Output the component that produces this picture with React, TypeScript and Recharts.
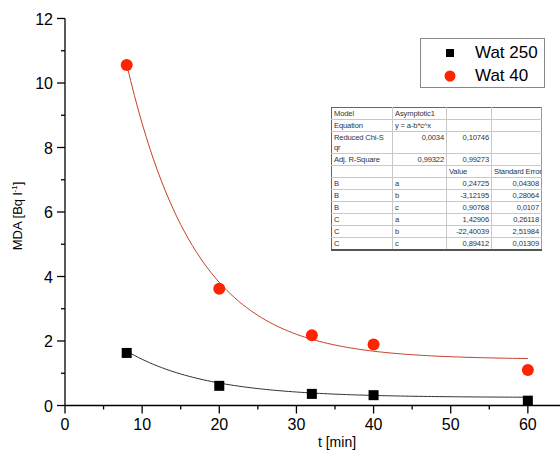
import React from "react";
import { ComposedChart, Line, Scatter, XAxis, YAxis } from "recharts";

// Measured detection limits (MDA) versus counting time
const timesWat250 = [8, 20, 32, 40, 60];
const mdaWat250 = [1.63, 0.61, 0.36, 0.32, 0.15];
const timesWat40 = [8, 20, 32, 40, 60];
const mdaWat40 = [10.56, 3.62, 2.18, 1.89, 1.1];

// Asymptotic1 fit parameters: y = a - b * c^x
const fitWat250 = { a: 0.24725, b: -3.12195, c: 0.90768 };
const fitWat40 = { a: 1.42906, b: -22.40039, c: 0.89412 };
const fitRange = [8, 60];

const xTicks = [0, 5, 10, 15, 20, 25, 30, 35, 40, 45, 50, 55, 60, 65];
const yTicks = [0, 1, 2, 3, 4, 5, 6, 7, 8, 9, 10, 11, 12];

// Fit-report table rows
const tableHead = [
  ["Model", "Asymptotic1", "", ""],
  ["Equation", "y = a-b*c^x", "", ""],
  ["Reduced Chi-Sqr", "0,0034", "0,10746", ""],
  ["Adj. R-Square", "0,99322", "0,99273", ""],
  ["", "", "Value", "Standard Error"],
];
const tableParams = [
  ["B", "a", "0,24725", "0,04308"],
  ["B", "b", "-3,12195", "0,28064"],
  ["B", "c", "0,90768", "0,0107"],
  ["C", "a", "1,42906", "0,26118"],
  ["C", "b", "-22,40039", "2,51984"],
  ["C", "c", "0,89412", "0,01309"],
];

const FONT = "'Liberation Sans', Arial, sans-serif";
const RED = "#ff2400";

const points = (xs: number[], ys: number[]) => xs.map((x, i) => ({ x, y: ys[i] }));

function fitCurve(p: { a: number; b: number; c: number }) {
  const out: { x: number; y: number }[] = [];
  for (let x = fitRange[0]; x <= fitRange[1] + 1e-9; x += 0.5) {
    out.push({ x, y: p.a - p.b * Math.pow(p.c, x) });
  }
  return out;
}

const dataWat250 = points(timesWat250, mdaWat250);
const dataWat40 = points(timesWat40, mdaWat40);
const curveWat250 = fitCurve(fitWat250);
const curveWat40 = fitCurve(fitWat40);

const YTick = (props: any) => {
  const { x, y, payload } = props;
  const v = payload.value as number;
  const major = v % 2 === 0;
  return (
    <g>
      <line x1={x} x2={x - (major ? 8 : 4)} y1={y} y2={y} stroke="#000" strokeWidth={1.3} />
      {major && (
        <text x={x - 12} y={y + 6} textAnchor="end" fontSize={16} fontFamily={FONT} fill="#000">
          {v}
        </text>
      )}
    </g>
  );
};

const XTick = (props: any) => {
  const { x, y, payload } = props;
  const v = payload.value as number;
  const major = v % 10 === 0;
  return (
    <g>
      <line x1={x} x2={x} y1={y} y2={y + (major ? 8 : 4)} stroke="#000" strokeWidth={1.3} />
      {major && (
        <text x={x} y={y + 24} textAnchor="middle" fontSize={16} fontFamily={FONT} fill="#000">
          {v}
        </text>
      )}
    </g>
  );
};

const Square = (props: any) => {
  const { cx, cy } = props;
  return <rect x={cx - 5} y={cy - 5} width={10} height={10} fill="#000" />;
};

const Dot = (props: any) => {
  const { cx, cy } = props;
  return <circle cx={cx} cy={cy} r={6} fill={RED} />;
};

const YTitle = (props: any) => {
  const vb = props.viewBox || { x: 0, y: 0, width: 65, height: 387 };
  const cx = vb.x + 22;
  const cy = vb.y + vb.height / 2 + 4;
  return (
    <text
      x={cx}
      y={cy}
      transform={`rotate(-90 ${cx} ${cy})`}
      textAnchor="middle"
      fontSize={13}
      fontFamily={FONT}
      fill="#000"
    >
      MDA [Bq l
      <tspan dy={-5} fontSize={8}>-1</tspan>
      <tspan dy={5}>]</tspan>
    </text>
  );
};

const XTitle = (props: any) => {
  const vb = props.viewBox || { x: 65, y: 405, width: 540, height: 46 };
  return (
    <text x={vb.x + vb.width / 2 + 2} y={vb.y + 41} textAnchor="middle" fontSize={14} fontFamily={FONT} fill="#000">
      t [min]
    </text>
  );
};

const legendItems = [
  { name: "Wat 250", kind: "square" },
  { name: "Wat 40", kind: "circle" },
];

function FitTable() {
  const rowH = (i: number) => (i === 2 ? 22 : 12);
  const widths = [61, 54, 45, 50];
  const cell = (ci: number, ri: number, head: boolean): React.CSSProperties => ({
    width: widths[ci],
    height: rowH(ri),
    padding: "1px 2px 0 2px",
    boxSizing: "border-box",
    verticalAlign: "top",
    textAlign: head ? (ci >= 1 && ri >= 2 && ri <= 3 ? "right" : "left") : ci >= 2 ? "right" : "left",
    borderRight: ci < 3 ? "1px solid #c8c8c8" : "none",
    borderBottom: "1px solid #c8c8c8",
    overflow: "hidden",
    whiteSpace: "nowrap",
    lineHeight: "10px",
  });
  const rows = [...tableHead, ...tableParams];
  return (
    <table
      style={{
        position: "absolute",
        left: 331,
        top: 107,
        width: 210,
        borderCollapse: "collapse",
        tableLayout: "fixed",
        fontFamily: FONT,
        fontSize: 7.6,
        letterSpacing: -0.15,
        color: "#333",
        background: "#fff",
        borderTop: "1px solid #666",
        borderLeft: "1px solid #666",
        borderRight: "1px solid #999",
        borderBottom: "2px solid #555",
      }}
    >
      <tbody>
        {rows.map((r, ri) => (
          <tr key={ri} style={{ height: rowH(ri) }}>
            {r.map((t, ci) => (
              <td key={ci} style={cell(ci, ri, ri < tableHead.length)}>
                {ri === 2 && ci === 0 ? (
                  <span>
                    Reduced Chi-S
                    <br />
                    qr
                  </span>
                ) : (
                  t
                )}
              </td>
            ))}
          </tr>
        ))}
      </tbody>
    </table>
  );
}

export default function App() {
  return (
    <div
      style={{
        position: "absolute",
        left: 0,
        top: 0,
        width: 560,
        height: 452,
        overflow: "hidden",
        background: "#fff",
      }}
    >
      <ComposedChart width={605} height={452} margin={{ top: 18.5, right: 0, bottom: 0, left: 0 }}>
        <XAxis
          xAxisId="main"
          dataKey="x"
          type="number"
          domain={[0, 70]}
          ticks={xTicks}
          interval={0}
          height={46.5}
          tickSize={0}
          tickMargin={0}
          tickLine={false}
          tick={<XTick />}
          axisLine={{ stroke: "#000", strokeWidth: 1.3 }}
          allowDataOverflow
          label={{ content: (p: any) => <XTitle {...p} /> }}
        />
        <XAxis
          xAxisId="top"
          orientation="top"
          dataKey="x"
          type="number"
          domain={[0, 70]}
          height={0}
          tick={false}
          tickLine={false}
          axisLine={{ stroke: "#000", strokeWidth: 1.3 }}
        />
        <YAxis
          type="number"
          domain={[0, 12]}
          ticks={yTicks}
          interval={0}
          width={65}
          tickSize={0}
          tickMargin={0}
          tickLine={false}
          tick={<YTick />}
          axisLine={{ stroke: "#000", strokeWidth: 1.3 }}
          label={{ content: (p: any) => <YTitle {...p} /> }}
        />
        <Line
          xAxisId="main"
          data={curveWat250}
          dataKey="y"
          type="linear"
          stroke="#333"
          strokeWidth={1}
          dot={false}
          activeDot={false}
          legendType="none"
          isAnimationActive={false}
        />
        <Line
          xAxisId="main"
          data={curveWat40}
          dataKey="y"
          type="linear"
          stroke="#c8402a"
          strokeWidth={1}
          dot={false}
          activeDot={false}
          legendType="none"
          isAnimationActive={false}
        />
        <Scatter
          xAxisId="main"
          name="Wat 250"
          data={dataWat250}
          dataKey="y"
          shape={<Square />}
          isAnimationActive={false}
        />
        <Scatter
          xAxisId="main"
          name="Wat 40"
          data={dataWat40}
          dataKey="y"
          shape={<Dot />}
          isAnimationActive={false}
        />
      </ComposedChart>

      <div
        style={{
          position: "absolute",
          left: 420,
          top: 38,
          width: 125,
          height: 50,
          boxSizing: "border-box",
          border: "1px solid #888",
          background: "#fff",
          fontFamily: FONT,
          fontSize: 17,
          color: "#000",
        }}
      >
        {legendItems.map((it, i) => (
          <div key={it.name} style={{ position: "absolute", left: 0, top: 4 + i * 23, height: 20, width: 123 }}>
            <svg width={20} height={20} style={{ position: "absolute", left: 19, top: 0 }}>
              {it.kind === "square" ? (
                <rect x={6} y={6} width={8} height={8} fill="#000" />
              ) : (
                <circle cx={10} cy={10} r={5.5} fill={RED} />
              )}
            </svg>
            <span style={{ position: "absolute", left: 54, top: 0, lineHeight: "20px", whiteSpace: "nowrap" }}>
              {it.name}
            </span>
          </div>
        ))}
      </div>

      <FitTable />
    </div>
  );
}
